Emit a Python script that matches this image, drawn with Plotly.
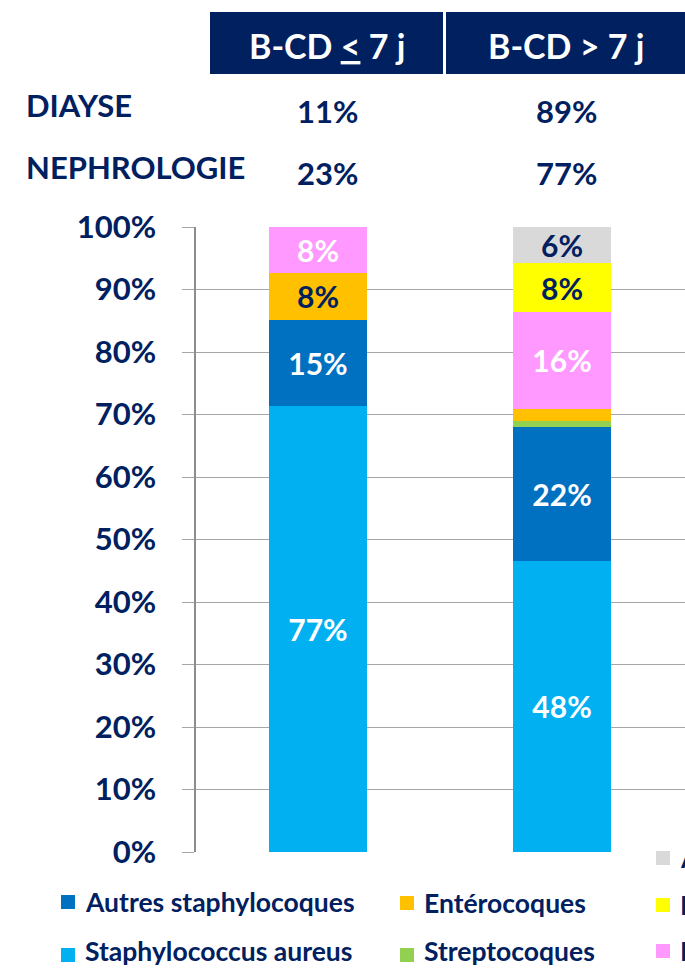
import plotly.graph_objects as go

# ---------------- data ----------------
categories = ["B-CD ≤ 7 j", "B-CD > 7 j"]
header_labels = ["B-CD <u>&lt;</u> 7 j", "B-CD &gt; 7 j"]
row_labels = ["DIAYSE", "NEPHROLOGIE"]
diayse = [11, 89]
nephrologie = [23, 77]

series_names = ["Staphylococcus aureus", "Autres staphylocoques", "Streptocoques",
                "Entérocoques", "Pseudomonas", "Entérobactéries", "Autres"]
staph_aureus = [77, 48]
autres_staph = [15, 22]
streptocoques = [0, 1]
enterocoques = [8, 2]
pseudomonas = [8, 16]
enterobacteries = [0, 8]
autres = [0, 6]
series_values = [staph_aureus, autres_staph, streptocoques, enterocoques,
                 pseudomonas, enterobacteries, autres]

colors = ["#00B0F0", "#0070C0", "#92D050", "#FFC000", "#FF99FF", "#FFFF00", "#D9D9D9"]
NAVY = "#002060"
label_colors = ["white", "white", NAVY, NAVY, "white", NAVY, NAVY]
FONT = "Lato"

# ---------------- geometry helpers (pixel -> paper) ----------------
W, H = 685, 970
L, T, B = 196, 227, 852
def px(x):
    return (x - L) / (W - L)
def py(y):
    return (B - y) / (B - T)

fig = go.Figure()
for name, vals, col, lc in zip(series_names, series_values, colors, label_colors):
    fig.add_trace(go.Bar(
        x=categories, y=vals, name=name,
        marker=dict(color=col, line=dict(width=0)),
        text=[f"{v}%" if v >= 5 else "" for v in vals],
        textposition="inside", insidetextanchor="middle",
        textangle=0, constraintext="none",
        textfont=dict(family=FONT, size=30, color=lc, weight="bold"),
        width=0.4, hoverinfo="skip",
    ))

shapes = []
annotations = []

# header boxes
boxes = [(210, 443), (446, 700)]
for (x0, x1), lab in zip(boxes, header_labels):
    shapes.append(dict(type="rect", xref="paper", yref="paper",
                       x0=px(x0), x1=px(x1), y0=py(74), y1=py(12),
                       fillcolor=NAVY, line=dict(width=0), layer="above"))
    annotations.append(dict(xref="paper", yref="paper", x=px((x0 + min(x1, 685)) / 2),
                            y=py(45), text=lab, showarrow=False,
                            xanchor="center", yanchor="middle",
                            font=dict(family=FONT, size=34, color="white", weight="bold")))

# row labels & percentages
row_y = [105, 167]
val_y = [111, 173]
col_x = [327, 566]
for lab, ry, vy, vals in zip(row_labels, row_y, val_y, [diayse, nephrologie]):
    annotations.append(dict(xref="paper", yref="paper", x=px(24), y=py(ry), text=lab,
                            showarrow=False, xanchor="left", yanchor="middle",
                            font=dict(family=FONT, size=31, color=NAVY, weight="bold")))
    for cx, v in zip(col_x, vals):
        annotations.append(dict(xref="paper", yref="paper", x=px(cx), y=py(vy),
                                text=f"{v}%", showarrow=False,
                                xanchor="center", yanchor="middle",
                                font=dict(family=FONT, size=31, color=NAVY, weight="bold")))

# legend (drawn manually to reproduce the cropped three-column layout)
# (label, colour, swatch left px, swatch centre px, text centre px)
legend_items = [
    ("Autres staphylocoques", colors[1], 61, 902, 902),
    ("Staphylococcus aureus", colors[0], 61, 955, 951),
    ("Entérocoques", colors[3], 400, 903, 903),
    ("Streptocoques", colors[2], 400, 955, 951),
    ("Autres", colors[6], 656, 858, 858),
    ("Entérobactéries", colors[5], 656, 905, 905),
    ("Pseudomonas", colors[4], 656, 951, 951),
]
for name, col, sx, cy, ty in legend_items:
    shapes.append(dict(type="rect", xref="paper", yref="paper",
                       x0=px(sx), x1=px(sx + 14), y0=py(cy + 7), y1=py(cy - 7),
                       fillcolor=col, line=dict(width=0)))
    annotations.append(dict(xref="paper", yref="paper", x=px(sx + 22), y=py(ty),
                            text=name, showarrow=False, xanchor="left", yanchor="middle",
                            font=dict(family=FONT, size=26.5, color=NAVY, weight="bold")))

fig.update_layout(
    barmode="stack", barnorm="percent",
    width=W, height=H,
    margin=dict(l=L, r=0, t=T, b=H - B, pad=0),
    paper_bgcolor="white", plot_bgcolor="white",
    showlegend=False,
    shapes=shapes, annotations=annotations,
    font=dict(family=FONT, color=NAVY),
)
fig.update_xaxes(range=[-0.5, 1.504], showticklabels=False, showgrid=False,
                 zeroline=False, showline=False, ticks="")
fig.update_yaxes(range=[0, 100], dtick=10, ticksuffix="%",
                 showgrid=True, gridcolor="#A6A6A6", gridwidth=1,
                 zeroline=False, showline=True, linecolor="#8C8C8C", linewidth=1.5,
                 ticks="outside", ticklen=12, tickcolor="#A6A6A6", tickwidth=1,
                 ticklabelstandoff=20,
                 tickfont=dict(family=FONT, size=31, color=NAVY, weight="bold"))

fig.write_html("out.html", config={"displayModeBar": False},
               post_script="document.body.style.margin='0';document.body.style.overflow='hidden';")
